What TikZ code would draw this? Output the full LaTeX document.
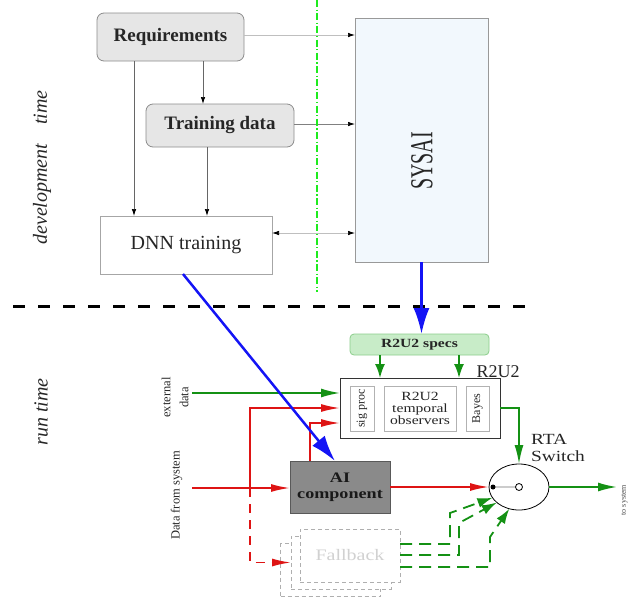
\documentclass[tikz,border=0pt]{standalone}
\usepackage{graphicx}
\usepackage{fontspec}
\setmainfont{Liberation Serif}
\newfontfamily\wideserif[FakeStretch=1.25]{Liberation Serif}
\usetikzlibrary{arrows.meta,shapes.geometric}
\definecolor{rred}{RGB}{222,20,20}
\definecolor{ggreen}{RGB}{20,145,20}
\definecolor{bblue}{RGB}{20,20,245}
\definecolor{reqfill}{RGB}{230,230,230}
\definecolor{sysfill}{RGB}{242,248,253}
\definecolor{specfill}{RGB}{200,236,200}
\definecolor{specdraw}{RGB}{140,205,140}
\definecolor{aifill}{RGB}{138,138,138}
\definecolor{fbgray}{RGB}{175,175,175}
\definecolor{ddgreen}{RGB}{30,235,30}
\begin{document}
\begin{tikzpicture}[x=1pt,y=-1pt,
  every node/.style={inner sep=0pt, outer sep=0pt, text=black!85},
  roundbox/.style={draw=black!45, fill=reqfill, rounded corners=7pt, line width=0.8pt, font=\bfseries\fontsize{19}{22}\selectfont},
  plainbox/.style={draw=black!35, fill=white, line width=0.8pt},
  innerbox/.style={draw=black!30, fill=white, line width=0.8pt},
  devarrow/.style={line width=0.7pt, -{Latex[length=7pt,width=4.5pt,color=black]}},
  bluearrow/.style={draw=bblue, line width=2.5pt, -{Latex[length=26pt,width=16pt]}},
  redarrow/.style={draw=rred, line width=1.8pt, -{Latex[length=19pt,width=8pt]}},
  reddash/.style={redarrow, dash pattern=on 9pt off 7pt},
  greenarrow/.style={draw=ggreen, line width=1.8pt, -{Latex[length=19pt,width=9pt]}},
  greenshort/.style={draw=ggreen, line width=1.8pt, -{Latex[length=14pt,width=10pt]}},
  greendash/.style={draw=ggreen, line width=1.8pt, dash pattern=on 12pt off 7pt, -{Latex[length=15pt,width=10pt]}},
  fbbox/.style={draw=fbgray, dash pattern=on 4pt off 3pt, fill=white, line width=0.8pt, minimum width=100pt, minimum height=53pt},
  sidelabel/.style={rotate=90, font=\itshape\fontsize{20}{24}\selectfont}
]
\useasboundingbox (0,0) rectangle (629,600);

% development time
\node[roundbox, minimum width=147pt, minimum height=48pt] (req) at (170.5,37) {Requirements};
\node[roundbox, minimum width=148pt, minimum height=43pt] (td) at (220,125.5) {Training data};
\node[plainbox, minimum width=172pt, minimum height=58pt, font=\fontsize{20}{24}\selectfont] (dnn) at (186,245) {DNN training};
\node[draw=black!40, fill=sysfill, line width=0.8pt, minimum width=133pt, minimum height=244pt] (sys) at (421.5,140) {};
\node[rotate=90, font=\fontsize{20}{24}\selectfont] (syslab) at (422,161) {\scalebox{1}[1.6]{SYSAI}};

\node[sidelabel] (devlab) at (42,167.5) {development\hspace{19pt}time};
\node[sidelabel] (runlab) at (41,412) {run time};

\draw[devarrow, draw=black!60] ([xshift=-36.5pt]req.south) -- ([xshift=-36.5pt]req.south |- dnn.north);
\draw[devarrow, draw=black!60] ([xshift=32.5pt]req.south) -- ([xshift=32.5pt]req.south |- td.north);
\draw[devarrow, draw=black!60] ([xshift=-13pt]td.south) -- ([xshift=-13pt]td.south |- dnn.north);
\draw[devarrow, draw=black!25] ([yshift=2pt]req.east) -- ([yshift=2pt]req.east -| sys.west);
\draw[devarrow, draw=black!50] ([yshift=1.5pt]td.east) -- ([yshift=1.5pt]td.east -| sys.west);
\draw[line width=0.7pt, draw=black!25, {Latex[length=7pt,width=4.5pt,color=black]}-{Latex[length=7pt,width=4.5pt,color=black]}] ([yshift=12pt]dnn.east) -- ([yshift=12pt]dnn.east -| sys.west);

\draw[draw=ddgreen, line width=1.1pt, dash pattern=on 7pt off 2.5pt on 1.2pt off 2.5pt] (317,0) -- (317,292);
\draw[line width=3pt, dash pattern=on 12pt off 13pt] (13,306) -- (530,306);

% run time
\node[draw=specdraw, fill=specfill, rounded corners=4pt, line width=0.8pt, minimum width=139pt, minimum height=21pt, font=\wideserif\bfseries\fontsize{12.5}{14}\selectfont] (specs) at (419.5,344.5) {R2U2 specs};
\draw[bluearrow] (sys.south) -- (sys.south |- specs.north);

\node[draw=black!80, fill=white, line width=1pt, minimum width=160pt, minimum height=60pt] (r2) at (420,408) {};
\node[font=\fontsize{18}{20}\selectfont] (r2lab) at (498,372) {R2U2};
\node[innerbox, rotate=90, minimum width=45pt, minimum height=24pt, font=\fontsize{12}{14}\selectfont] (sp) at (362,408.5) {sig proc};
\node[innerbox, minimum width=72pt, minimum height=45pt, align=center, font=\wideserif\fontsize{12.5}{12}\selectfont] (tob) at (420,408.5) {R2U2\\temporal\\observers};
\node[innerbox, rotate=90, minimum width=45pt, minimum height=23pt, font=\fontsize{12}{14}\selectfont] (bay) at (477.5,408.5) {Bayes};

\draw[greenshort] ([xshift=-39.5pt]specs.south) -- ([xshift=-39.5pt]specs.south |- r2.north);
\draw[greenshort] ([xshift=39.5pt]specs.south) -- ([xshift=39.5pt]specs.south |- r2.north);

\coordinate (ext) at (192,393);
\coordinate (dsys) at (192,488);
\coordinate (br) at (250,488);
\node[rotate=90, align=center, font=\fontsize{12.5}{18}\selectfont] (extlab) at (175,397.5) {external\\data};
\node[rotate=90, font=\fontsize{12.5}{14}\selectfont] (dlab) at (176.5,495.5) {Data from system};

\node[draw=black!65, fill=aifill, line width=0.8pt, minimum width=100pt, minimum height=52pt, align=center, font=\wideserif\bfseries\fontsize{14.5}{16}\selectfont, text=black!90] (ai) at (340,487) {AI\\component};

\node[fbbox] (fb3) at (330.5,570) {};
\node[fbbox] (fb2) at (341,562.5) {};
\node[fbbox, text=black!18, font=\wideserif\fontsize{16}{18}\selectfont] (fb1) at (350,555.5) {Fallback};

\node[draw=black, ellipse, line width=0.8pt, minimum width=60pt, minimum height=46pt, fill=white] (sw) at (519,487) {};
\draw[black!20, line width=1.5pt] ([xshift=-26pt]sw.center) -- ([xshift=-3.5pt]sw.center);
\fill ([xshift=-26pt]sw.center) circle (2.5pt);
\draw[line width=0.8pt] (sw.center) circle (3.5pt);
\node[align=left, font=\wideserif\fontsize{15.5}{17}\selectfont] (rta) at (558,448) {RTA\\Switch};

\coordinate (out) at (617,487);
\node[rotate=90, font=\fontsize{8}{9}\selectfont, text=black!70] (tosys) at (624.5,500) {to system};

% red connectors
\draw[redarrow] (dsys) -- (dsys -| ai.west);
\draw[redarrow] (br) |- (r2.west);
\draw[reddash] (br) |- (fb2.west);
\draw[redarrow] ([xshift=-30pt]ai.north) |- ([yshift=-15pt]r2.west);
\draw[redarrow] (ai.east) -- (sw.west);

% green connectors
\draw[greenarrow] (ext) -- (ext -| r2.west);
\draw[greenarrow] (r2.east) -| (sw.north);
\draw[greenarrow] (sw.east) -- (out);
\draw[greendash] ([yshift=11.5pt]fb1.east) -- ++(50,0) -- ++(0,-31) -- (sw.202);
\draw[greendash] ([yshift=0.5pt]fb1.east) -- ++(59,0) -- ++(0,-32) -- (sw.215);
\draw[greendash] ([yshift=-11.5pt]fb1.east) -- ++(90,0) -- ++(0,-30) -- (sw.246);

% blue DNN -> AI
\draw[bluearrow] ([xshift=-3pt]dnn.south) -- ([xshift=-5pt]ai.north);
\end{tikzpicture}
\end{document}
